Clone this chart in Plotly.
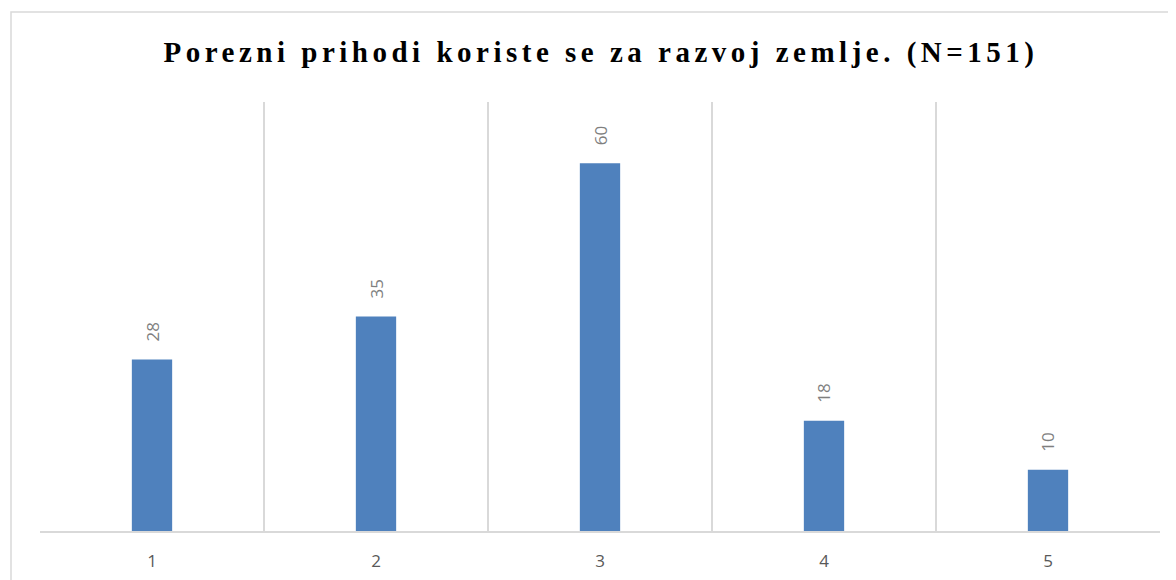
import plotly.graph_objects as go

categories = [1, 2, 3, 4, 5]
tick_labels = ["1", "2", "3", "4", "5"]
values = [28, 35, 60, 18, 10]
title_text = "Porezni prihodi koriste se za razvoj zemlje. (N=151)"

# page has an 8px body margin; figure coordinates are offset by 8px
OFF = 8
W, H = 1176 - OFF, 580 - OFF
L, R, T, B = 40 - OFF, 16, 102 - OFF, 49
pw, ph = W - L - R, H - T - B

fig = go.Figure()
fig.add_trace(go.Bar(
    x=categories, y=values, width=0.18,
    marker=dict(color="#4F81BD", line=dict(width=0)),
    hoverinfo="x+y",
))

for c, v in zip(categories, values):
    fig.add_annotation(
        x=c, y=v, text=str(v), showarrow=False, textangle=-90,
        xanchor="center", yanchor="middle", yshift=27,
        font=dict(family="Open Sans, Calibri, sans-serif", size=17, color="#7F7F7F"),
    )

# outer chart frame (light grey), partly cut by the picture edge
fx0, fy0 = 11 - OFF, 12 - OFF
fig.add_shape(
    type="rect", xref="paper", yref="paper",
    x0=(fx0 - L) / pw, x1=(W + 10 - L) / pw,
    y0=(H - B - (H + 10)) / ph, y1=(H - B - fy0) / ph,
    line=dict(color="#D9D9D9", width=1.5), fillcolor="rgba(0,0,0,0)", layer="below",
)

fig.update_layout(
    width=W, height=H,
    margin=dict(l=L, r=R, t=T, b=B, autoexpand=False),
    paper_bgcolor="white", plot_bgcolor="white",
    showlegend=False,
    title=dict(
        text='<span style="letter-spacing:4.5px">' + title_text + "</span>",
        x=(601 - OFF) / W, xanchor="center", y=1 - (52 - OFF) / H, yanchor="middle",
        font=dict(family="Liberation Serif, Times New Roman, serif", size=29, color="black", weight="bold"),
    ),
    xaxis=dict(
        range=[0.5, 5.5], tickvals=categories, ticktext=tick_labels,
        showgrid=False, zeroline=False, ticks="",
        showline=True, linecolor="#D9D9D9", linewidth=1.5,
        tickfont=dict(family="Open Sans, Calibri, sans-serif", size=17, color="#595959"),
        ticklabelstandoff=14, automargin=False,
        minor=dict(tickvals=[0.5, 1.5, 2.5, 3.5, 4.5, 5.5], showgrid=True,
                   gridcolor="#D9D9D9", gridwidth=1.5, ticks=""),
        fixedrange=True,
    ),
    yaxis=dict(
        range=[0, 70], showgrid=False, zeroline=False, showticklabels=False,
        ticks="", showline=False, fixedrange=True, automargin=False,
    ),
)

fig.write_html("out.html")
